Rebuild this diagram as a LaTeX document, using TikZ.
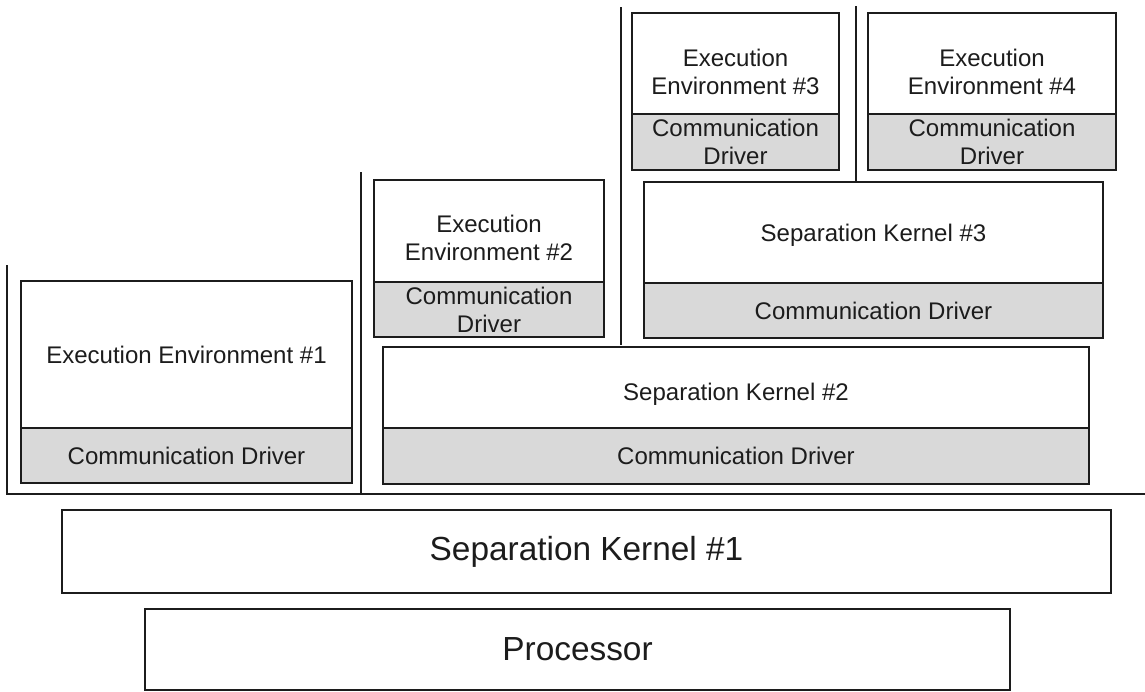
\documentclass[tikz,border=0pt]{standalone}
\usepackage{fontspec}
\setmainfont{Liberation Sans}
\usetikzlibrary{positioning}
\definecolor{edge}{rgb}{0.11,0.11,0.11}
\definecolor{accent}{rgb}{0.85,0.85,0.85}

\begin{document}
\begin{tikzpicture}[%
  x=0.03cm, y=-0.03cm,
  txt/.style={align=center, text=edge, inner sep=0pt,
    font=\fontsize{20.5pt}{24pt}\selectfont},
  part/.style={txt, draw=edge, line width=1.6pt, outer sep=0pt},
  driver/.style={part, fill=accent},
  base/.style={part, font=\fontsize{28.5pt}{32pt}\selectfont},
  wall/.style={draw=edge, line width=1.3pt},
]

  \useasboundingbox (0,0) rectangle (1145,691);

  % partition walls
  \coordinate (w1) at (7,265);
  \coordinate (w2) at (361,172);
  \coordinate (w3) at (621,7);
  \coordinate (w4) at (856,6);
  \coordinate (floor) at (1145,494);
  \draw[wall] (w1) |- (floor);
  \draw[wall] (w2) -- (w2 |- floor);
  \draw[wall] (w3) -- (621,345);
  \draw[wall] (w4) -- (856,182);

  % first partition
  \node[part, anchor=north west, minimum width=9.93cm, minimum height=4.41cm]
    (ee1) at (21,281) {Execution Environment \#1};
  \node[driver, minimum width=9.93cm, minimum height=1.65cm, below=0pt of ee1]
    (cd1) {Communication Driver};

  % second partition
  \node[part, anchor=north west, minimum width=6.9cm, minimum height=3.06cm,
    label={[txt, yshift=-0.22cm]center:{Execution\\Environment \#2}}]
    (ee2) at (374,180) {};
  \node[driver, minimum width=6.9cm, minimum height=1.65cm, below=0pt of ee2]
    (cd2) {Communication\\Driver};

  \node[part, anchor=north west, minimum width=21.18cm, minimum height=2.43cm,
    label={[txt, yshift=-0.2cm]center:{Separation Kernel \#2}}]
    (sk2) at (383,347) {};
  \node[driver, minimum width=21.18cm, minimum height=1.68cm, below=0pt of sk2]
    (cd2b) {Communication Driver};

  % third partition
  \node[part, anchor=north west, minimum width=13.77cm, minimum height=3.03cm,
    label={[txt, yshift=-0.09cm]center:{Separation Kernel \#3}}]
    (sk3) at (644,182) {};
  \node[driver, minimum width=13.77cm, minimum height=1.65cm, below=0pt of sk3]
    (cd3b) {Communication Driver};

  \node[part, anchor=north west, minimum width=6.21cm, minimum height=3.03cm,
    label={[txt, yshift=-0.24cm]center:{Execution\\Environment \#3}}]
    (ee3) at (632,13) {};
  \node[driver, minimum width=6.21cm, minimum height=1.68cm, below=0pt of ee3]
    (cd3) {Communication\\Driver};

  \node[part, anchor=north west, minimum width=7.44cm, minimum height=3.03cm,
    label={[txt, yshift=-0.24cm]center:{Execution\\Environment \#4}}]
    (ee4) at (868,13) {};
  \node[driver, minimum width=7.44cm, minimum height=1.68cm, below=0pt of ee4]
    (cd4) {Communication\\Driver};

  % bottom layers
  \node[base, anchor=north west, minimum width=31.47cm, minimum height=2.49cm]
    (sk1) at (62,510) {Separation Kernel \#1};
  \node[base, anchor=north west, minimum width=25.95cm, minimum height=2.43cm]
    (cpu) at (145,609) {Processor};

\end{tikzpicture}
\end{document}
